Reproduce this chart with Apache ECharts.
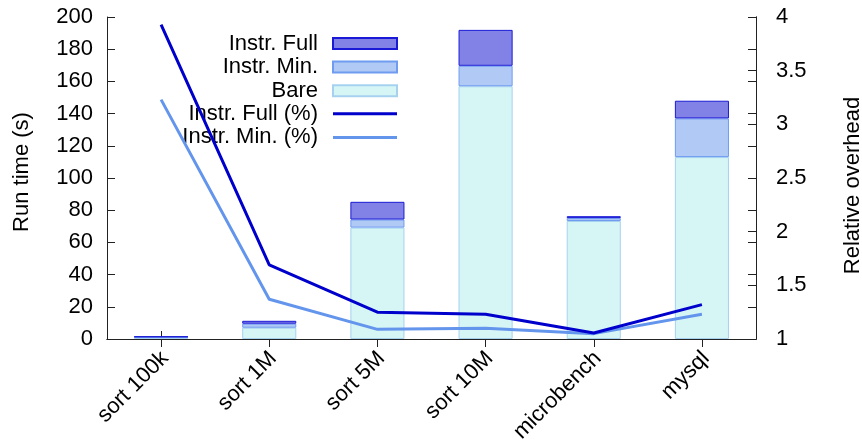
<!DOCTYPE html>
<html><head><meta charset="utf-8">
<script src="https://cdn.jsdelivr.net/npm/echarts@6/dist/echarts.min.js"></script>
<style>html,body{margin:0;padding:0;background:#fff;overflow:hidden}#c{width:862px;height:446px}</style>
</head><body><div id="c"></div>
<script>
const categories = ['sort 100k', 'sort 1M', 'sort 5M', 'sort 10M', 'microbench', 'mysql'];
const bare = [1.0, 7.0, 69.2, 157.0, 73.3, 113.0];
const instrMinExtra = [0.3, 2.5, 5.0, 12.7, 1.8, 24.0];
const instrFullExtra = [0.2, 1.8, 11.0, 22.3, 1.2, 11.0];
const fullPct = [3.93, 1.69, 1.25, 1.23, 1.056, 1.32];
const minPct = [3.23, 1.37, 1.09, 1.10, 1.05, 1.23];
const leftTicks = {min: 0, max: 200, interval: 20};
const rightTicks = {min: 1, max: 4, interval: 0.5};

const FONT = 'Liberation Sans';
const FS = 22;
const axisLine = {show: true, lineStyle: {color: '#222', width: 1}};
const tick = {show: true, inside: true, length: 8, lineStyle: {color: '#222'}};
const legendText = {fontFamily: FONT, fontSize: FS, color: '#000', width: 175, align: 'right', padding: [0, 10, 0, 0], lineHeight: 23.6};
const chart = echarts.init(document.getElementById('c'), null, {renderer: 'canvas'});
chart.setOption({
  animation: false,
  textStyle: {fontFamily: FONT},
  grid: [
    {left: 107, right: 106, top: 17, bottom: 107, outerBoundsMode: 'none', containLabel: false},
    {left: 111, right: 102, top: 17, bottom: 107, outerBoundsMode: 'none', containLabel: false}
  ],
  legend: [{
    orient: 'vertical', left: 138, top: 26.7, align: 'right', icon: 'rect',
    itemWidth: 64, itemHeight: 11, itemGap: 0,
    textStyle: legendText,
    data: ['Instr. Full', 'Instr. Min.', 'Bare']
  }, {
    orient: 'vertical', left: 138, top: 97, align: 'right', icon: 'rect',
    itemWidth: 64, itemHeight: 3, itemGap: 0,
    textStyle: legendText,
    data: ['Instr. Full (%)', 'Instr. Min. (%)']
  }],
  xAxis: [{
    type: 'category', data: categories, position: 'bottom', gridIndex: 0,
    axisLine: axisLine, axisTick: Object.assign({alignWithLabel: true}, tick),
    axisLabel: {show: false}, splitLine: {show: false}
  }, {
    type: 'category', data: categories, position: 'top', gridIndex: 0,
    axisLine: axisLine, axisTick: Object.assign({alignWithLabel: true}, tick),
    axisLabel: {show: false}, splitLine: {show: false}
  }, {
    type: 'category', data: categories, position: 'bottom', gridIndex: 1,
    axisLine: {show: false}, axisTick: {show: false},
    axisLabel: {rotate: 45, fontSize: FS, color: '#000', margin: 16, fontFamily: FONT, interval: 0},
    splitLine: {show: false}
  }],
  yAxis: [{
    type: 'value', min: leftTicks.min, max: leftTicks.max, interval: leftTicks.interval, position: 'left', gridIndex: 0,
    name: 'Run time (s)', nameLocation: 'middle', nameRotate: 90, nameGap: 74,
    nameTextStyle: {fontSize: FS, color: '#000', fontFamily: FONT, padding: [0, 0, 0, 12]},
    axisLine: axisLine, axisTick: tick,
    axisLabel: {fontSize: FS, color: '#000', margin: 14, fontFamily: FONT},
    splitLine: {show: false}
  }, {
    type: 'value', min: rightTicks.min, max: rightTicks.max, interval: rightTicks.interval, position: 'right', offset: 0, gridIndex: 0,
    name: 'Relative overhead', nameLocation: 'middle', nameRotate: 90, nameGap: 86,
    nameTextStyle: {fontSize: FS, color: '#000', fontFamily: FONT, padding: [0, 15, 0, 0]},
    axisLine: axisLine, axisTick: tick,
    axisLabel: {fontSize: FS, color: '#000', margin: 20, fontFamily: FONT},
    splitLine: {show: false}
  }, {
    type: 'value', min: leftTicks.min, max: leftTicks.max, interval: leftTicks.interval, position: 'right', offset: 0, gridIndex: 0,
    axisLine: axisLine, axisTick: tick, axisLabel: {show: false}, splitLine: {show: false}
  }, {
    type: 'value', gridIndex: 1, min: 0, max: 1, show: false
  }],
  series: [
    {name: 'Bare', type: 'bar', stack: 'rt', barWidth: '50%', data: bare,
     itemStyle: {color: '#d6f5f5', borderColor: '#a6d2f0', borderWidth: 1}},
    {name: 'Instr. Min.', type: 'bar', stack: 'rt', data: instrMinExtra,
     itemStyle: {color: '#b1caf5', borderColor: '#6f9cf0', borderWidth: 1}},
    {name: 'Instr. Full', type: 'bar', stack: 'rt', data: instrFullExtra,
     itemStyle: {color: '#8282e6', borderColor: '#1a1ad6', borderWidth: 1}},
    {name: 'Instr. Full (%)', type: 'line', yAxisIndex: 1, data: fullPct, symbol: 'none', z: 5,
     lineStyle: {color: '#0000cc', width: 3}, itemStyle: {color: '#0000cc', borderWidth: 0}},
    {name: 'Instr. Min. (%)', type: 'line', yAxisIndex: 1, data: minPct, symbol: 'none', z: 4,
     lineStyle: {color: '#6495ed', width: 3}, itemStyle: {color: '#6495ed', borderWidth: 0}}
  ]
});
</script></body></html>
